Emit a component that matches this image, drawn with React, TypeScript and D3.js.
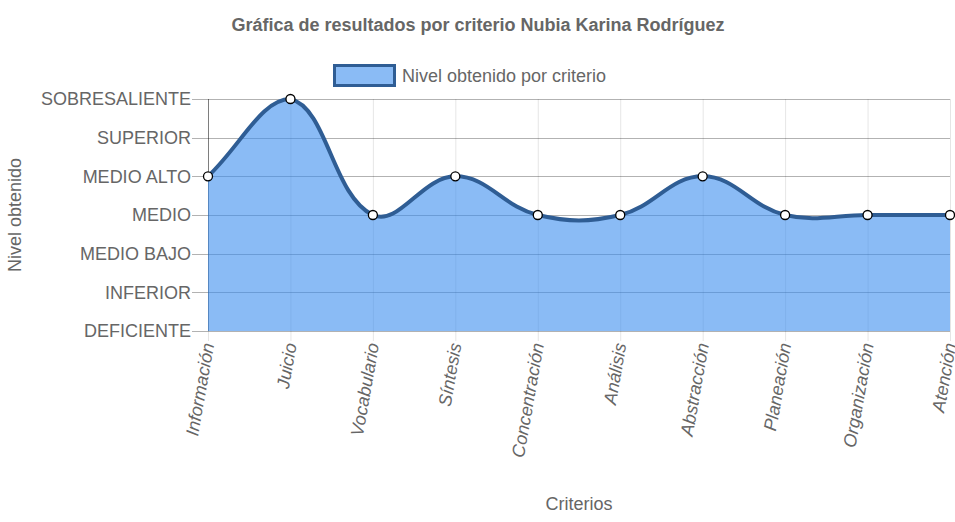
import React from "react";
import * as d3 from "d3";

const categories = [
  "Información",
  "Juicio",
  "Vocabulario",
  "Síntesis",
  "Concentración",
  "Análisis",
  "Abstracción",
  "Planeación",
  "Organización",
  "Atención",
];
const levels = [
  "DEFICIENTE",
  "INFERIOR",
  "MEDIO BAJO",
  "MEDIO",
  "MEDIO ALTO",
  "SUPERIOR",
  "SOBRESALIENTE",
];
const values = [4, 6, 3, 4, 3, 3, 4, 3, 3, 3];

const W = 955;
const H = 522;
const M = { left: 208, right: 950, top: 99, bottom: 331 };
const FONT = "'Liberation Sans', Arial, Helvetica, sans-serif";
const TEXT = "#666";
const FS = 18;

// Chart.js-like spline (tension 0.4, capped to chart area)
function makeChartJsCurve(t: number, area: { left: number; right: number; top: number; bottom: number }) {
  return (context: any) => {
    let pts: [number, number][] = [];
    let line: number = NaN;
    const cap = (x: number, y: number): [number, number] => [
      Math.max(area.left, Math.min(area.right, x)),
      Math.max(area.top, Math.min(area.bottom, y)),
    ];
    return {
      areaStart() {
        line = 0;
      },
      areaEnd() {
        line = NaN;
      },
      lineStart() {
        pts = [];
      },
      point(x: number, y: number) {
        pts.push([+x, +y]);
      },
      lineEnd() {
        const n = pts.length;
        if (n === 0) return;
        if (line) context.lineTo(pts[0][0], pts[0][1]);
        else context.moveTo(pts[0][0], pts[0][1]);
        const cpP: [number, number][] = [];
        const cpN: [number, number][] = [];
        for (let i = 0; i < n; i++) {
          const prev = pts[Math.max(0, i - 1)];
          const cur = pts[i];
          const next = pts[Math.min(n - 1, i + 1)];
          const d01 = Math.hypot(cur[0] - prev[0], cur[1] - prev[1]);
          const d12 = Math.hypot(next[0] - cur[0], next[1] - cur[1]);
          let s01 = d01 / (d01 + d12);
          let s12 = d12 / (d01 + d12);
          if (isNaN(s01)) s01 = 0;
          if (isNaN(s12)) s12 = 0;
          const fa = t * s01;
          const fb = t * s12;
          cpP.push(cap(cur[0] - fa * (next[0] - prev[0]), cur[1] - fa * (next[1] - prev[1])));
          cpN.push(cap(cur[0] + fb * (next[0] - prev[0]), cur[1] + fb * (next[1] - prev[1])));
        }
        for (let i = 1; i < n; i++) {
          context.bezierCurveTo(cpN[i - 1][0], cpN[i - 1][1], cpP[i][0], cpP[i][1], pts[i][0], pts[i][1]);
        }
        if (line || (line !== 0 && n === 1)) context.closePath();
        line = 1 - line;
      },
    };
  };
}

export default function App() {
  const x = d3
    .scalePoint<string>()
    .domain(categories)
    .range([M.left, M.right]);
  const y = d3
    .scaleLinear()
    .domain([0, levels.length - 1])
    .range([M.bottom, M.top]);

  const curve: any = makeChartJsCurve(0.4, M);
  const data = categories.map((c, i) => ({ c, v: values[i] }));
  const lineGen = d3
    .line<{ c: string; v: number }>()
    .x((d) => x(d.c)!)
    .y((d) => y(d.v))
    .curve(curve);
  const areaGen = d3
    .area<{ c: string; v: number }>()
    .x((d) => x(d.c)!)
    .y0(y(0))
    .y1((d) => y(d.v))
    .curve(curve);

  const lineColor = "#2f5d94";
  const fillColor = "rgba(60,142,238,0.6)";

  return (
    <svg width={W} height={H} style={{ position: "absolute", left: 0, top: 0 }} fontFamily={FONT}>
      <rect x={0} y={0} width={W} height={H} fill="#fff" />
      {/* title */}
      <text x={478} y={31} textAnchor="middle" fontSize={FS} fontWeight="bold" fill={TEXT}>
        Gráfica de resultados por criterio Nubia Karina Rodríguez
      </text>
      {/* legend */}
      <rect x={334.5} y={65.5} width={60} height={20} fill="#8abbf5" stroke={lineColor} strokeWidth={3} />
      <text x={402} y={82} fontSize={FS} fill={TEXT}>
        Nivel obtenido por criterio
      </text>

      {/* vertical grid */}
      {categories.map((c) => (
        <line
          key={"vg" + c}
          x1={x(c)! + 0.5}
          x2={x(c)! + 0.5}
          y1={M.top}
          y2={M.bottom + 10}
          stroke="rgba(0,0,0,0.1)"
          strokeWidth={1}
        />
      ))}
      {/* horizontal grid */}
      {levels.map((l, i) => (
        <line
          key={"hg" + l}
          x1={M.left - 16}
          x2={M.right}
          y1={Math.round(y(i)) + 0.5}
          y2={Math.round(y(i)) + 0.5}
          stroke="rgba(0,0,0,0.3)"
          strokeWidth={1}
        />
      ))}
      {/* left axis line */}
      <line x1={M.left + 0.5} x2={M.left + 0.5} y1={M.top} y2={M.bottom} stroke="rgba(0,0,0,0.45)" strokeWidth={1} />

      {/* area & line */}
      <path d={areaGen(data) || ""} fill={fillColor} />
      <path d={lineGen(data) || ""} fill="none" stroke={lineColor} strokeWidth={4} strokeLinejoin="round" />
      {data.map((d) => (
        <circle key={"pt" + d.c} cx={x(d.c)!} cy={y(d.v)} r={4.5} fill="#fff" stroke="#000" strokeWidth={1.3} />
      ))}

      {/* y tick labels */}
      {levels.map((l, i) => (
        <text key={"yl" + l} x={191} y={y(i)} dy="0.35em" textAnchor="end" fontSize={FS} fill={TEXT}>
          {l}
        </text>
      ))}
      {/* x tick labels */}
      {categories.map((c) => (
        <text
          key={"xl" + c}
          transform={`translate(${x(c)!},${M.bottom + 12}) rotate(-80)`}
          textAnchor="end"
          dy="0.35em"
          fontSize={FS}
          fontStyle="italic"
          fill={TEXT}
        >
          {c}
        </text>
      ))}

      {/* axis titles */}
      <text
        transform={`translate(21,${(M.top + M.bottom) / 2}) rotate(-90)`}
        textAnchor="middle"
        fontSize={FS}
        fill={TEXT}
      >
        Nivel obtenido
      </text>
      <text x={(M.left + M.right) / 2} y={510} textAnchor="middle" fontSize={FS} fill={TEXT}>
        Criterios
      </text>
    </svg>
  );
}
